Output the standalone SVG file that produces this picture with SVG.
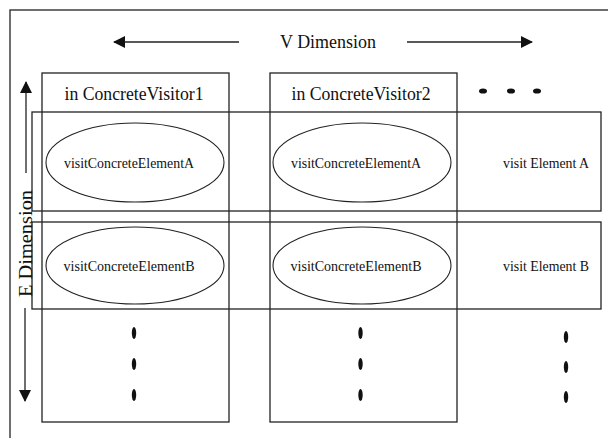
<svg xmlns="http://www.w3.org/2000/svg" width="608" height="438" viewBox="0 0 608 438">
  <defs>
    <style>
      .frame { fill: none; stroke: #222; stroke-width: 1.3; }
      .oval { fill: none; stroke: #222; stroke-width: 1.1; }
      .head { font-family: "Liberation Serif", serif; font-size: 19px; fill: #111; }
      .lab { font-family: "Liberation Serif", serif; font-size: 15px; fill: #111; }
      .dim { font-family: "Liberation Serif", serif; font-size: 19px; fill: #111; }
      .dot { fill: #111; }
      .conn { stroke: #222; stroke-width: 1.3; fill: none; }
    </style>
    <marker id="arrow" viewBox="0 0 12 12" refX="11" refY="6" markerWidth="12" markerHeight="12" markerUnits="userSpaceOnUse" orient="auto">
      <path d="M0,0 L12,6 L0,12 z" fill="#111"/>
    </marker>
  </defs>

  <rect width="608" height="438" fill="#fff"/>
  <!-- outer frame (top and left edges visible) -->
  <rect class="frame" x="10" y="10" width="640" height="460"/>

  <!-- visitor columns -->
  <g id="visitor1">
    <rect class="frame" x="42" y="73" width="187" height="349"/>
    <text class="head" x="134" y="100" text-anchor="middle" textLength="139" lengthAdjust="spacingAndGlyphs">in ConcreteVisitor1</text>
  </g>
  <g id="visitor2">
    <rect class="frame" x="270" y="73" width="187" height="349"/>
    <text class="head" x="361" y="100" text-anchor="middle" textLength="139" lengthAdjust="spacingAndGlyphs">in ConcreteVisitor2</text>
  </g>
  <g id="more-visitors">
    <ellipse class="dot" cx="483" cy="91" rx="4" ry="2.6"/>
    <ellipse class="dot" cx="511" cy="91" rx="4" ry="2.6"/>
    <ellipse class="dot" cx="537" cy="91" rx="4" ry="2.6"/>
  </g>

  <!-- element rows -->
  <g id="elementA">
    <rect class="frame" x="32" y="112" width="569" height="99"/>
    <text class="lab" x="546" y="168" text-anchor="middle" textLength="86" lengthAdjust="spacingAndGlyphs">visit Element A</text>
  </g>
  <g id="elementB">
    <rect class="frame" x="32" y="222" width="569" height="87"/>
    <text class="lab" x="546" y="271" text-anchor="middle" textLength="86" lengthAdjust="spacingAndGlyphs">visit Element B</text>
  </g>

  <!-- visit operations -->
  <g id="v1-visitA">
    <ellipse class="oval" cx="135" cy="162.5" rx="89" ry="39.5"/>
    <text class="lab" x="129" y="168" text-anchor="middle" textLength="130" lengthAdjust="spacingAndGlyphs">visitConcreteElementA</text>
  </g>
  <g id="v2-visitA">
    <ellipse class="oval" cx="362" cy="162.5" rx="89" ry="39.5"/>
    <text class="lab" x="356" y="168" text-anchor="middle" textLength="130" lengthAdjust="spacingAndGlyphs">visitConcreteElementA</text>
  </g>
  <g id="v1-visitB">
    <ellipse class="oval" cx="135" cy="265.5" rx="89" ry="38.5"/>
    <text class="lab" x="129" y="271" text-anchor="middle" textLength="131" lengthAdjust="spacingAndGlyphs">visitConcreteElementB</text>
  </g>
  <g id="v2-visitB">
    <ellipse class="oval" cx="362" cy="265.5" rx="89" ry="38.5"/>
    <text class="lab" x="356" y="271" text-anchor="middle" textLength="131" lengthAdjust="spacingAndGlyphs">visitConcreteElementB</text>
  </g>

  <!-- more elements -->
  <g id="more-elements">
    <ellipse class="dot" cx="134" cy="333" rx="2.2" ry="6"/>
    <ellipse class="dot" cx="134" cy="364" rx="2.2" ry="6"/>
    <ellipse class="dot" cx="134" cy="395" rx="2.2" ry="6"/>
    <ellipse class="dot" cx="360.5" cy="333" rx="2.2" ry="6"/>
    <ellipse class="dot" cx="360.5" cy="364" rx="2.2" ry="6"/>
    <ellipse class="dot" cx="360.5" cy="395" rx="2.2" ry="6"/>
    <ellipse class="dot" cx="566" cy="337" rx="2.2" ry="6"/>
    <ellipse class="dot" cx="566" cy="367" rx="2.2" ry="6"/>
    <ellipse class="dot" cx="566" cy="397" rx="2.2" ry="6"/>
  </g>

  <!-- dimension axes -->
  <g id="connectors">
    <line class="conn" x1="239" y1="42" x2="114" y2="42" marker-end="url(#arrow)"/>
    <line class="conn" x1="407" y1="42" x2="532" y2="42" marker-end="url(#arrow)"/>
    <line class="conn" x1="26" y1="173" x2="26" y2="82" marker-end="url(#arrow)"/>
    <line class="conn" x1="25" y1="308" x2="25" y2="401" marker-end="url(#arrow)"/>
  </g>
  <g id="v-dimension">
    <text class="dim" x="328" y="48" text-anchor="middle" textLength="96" lengthAdjust="spacingAndGlyphs">V Dimension</text>
  </g>
  <g id="e-dimension">
    <text class="dim" transform="translate(31.5 243.5) rotate(-90)" x="0" y="0" text-anchor="middle" textLength="107" lengthAdjust="spacingAndGlyphs">E Dimension</text>
  </g>
</svg>
